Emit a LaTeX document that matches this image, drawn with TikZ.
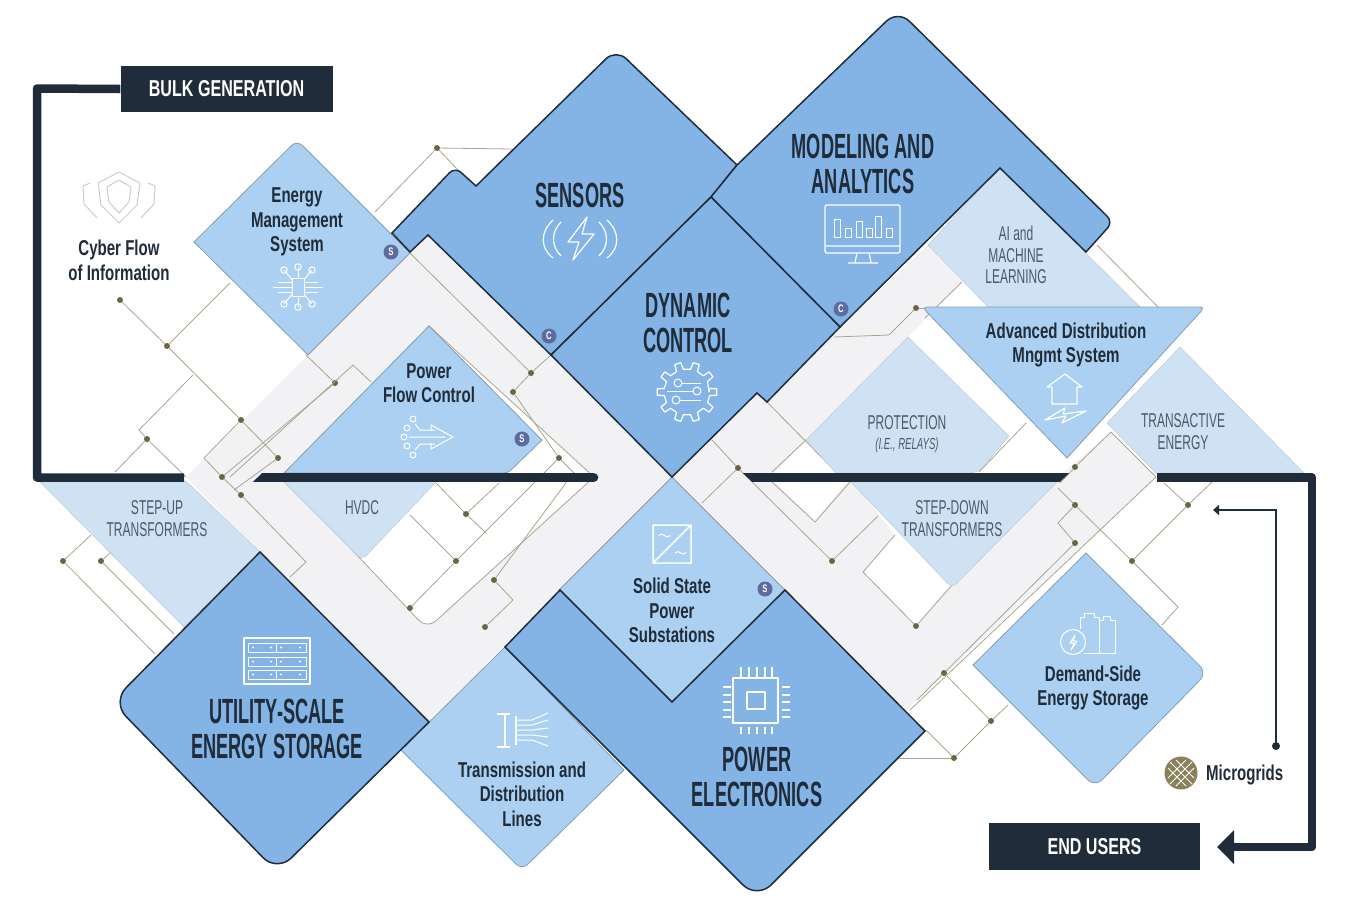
\documentclass[tikz,border=0pt]{standalone}
\usepackage{fontspec}
\usetikzlibrary{arrows.meta}
\newfontfamily\heavyfont[FakeStretch=0.52]{Liberation Sans}
\newfontfamily\midfont[FakeStretch=0.70]{Liberation Sans}
\newfontfamily\palefont[FakeStretch=0.60]{Liberation Sans}
\definecolor{ink}{HTML}{202C39}
\definecolor{bigblue}{HTML}{84B4E6}
\definecolor{midblue}{HTML}{ACD0F1}
\definecolor{paleblue}{HTML}{CFE2F4}
\definecolor{bandgrey}{HTML}{F2F2F4}
\definecolor{wirecol}{HTML}{A9A58F}
\definecolor{dotcol}{HTML}{6A6543}
\definecolor{badgecol}{HTML}{5D6B9E}
\definecolor{palelabel}{HTML}{4C5A68}
\definecolor{gridcol}{HTML}{8B8059}
\tikzset{
  bigshape/.style={fill=bigblue,draw=ink,line width=1.5pt},
  midshape/.style={fill=midblue,draw=midblue!70!black!90,line width=0.8pt},
  paleshape/.style={fill=paleblue,draw=paleblue!80!black!80,line width=0.4pt},
  wire/.style={draw=wirecol,line width=0.8pt},
  wiredot/.style={circle,fill=dotcol,inner sep=0pt,minimum size=6pt},
  thickline/.style={draw=ink,line width=8.5pt},
  banner/.style={fill=ink,text=white,inner sep=0pt,font=\midfont\bfseries\fontsize{23}{25}\selectfont},
  biglabel/.style={text=ink,align=center,inner sep=0pt,font=\heavyfont\bfseries\fontsize{35}{35.5}\selectfont},
  midlabel/.style={text=ink,align=center,inner sep=0pt,font=\midfont\bfseries\fontsize{21.5}{24.6}\selectfont},
  palelab/.style={text=palelabel,align=center,inner sep=0pt,font=\palefont\fontsize{20}{21.5}\selectfont},
  badge/.style={circle,fill=badgecol,text=white,inner sep=0pt,minimum size=15pt,font=\midfont\bfseries\fontsize{11}{11}\selectfont},
  iconline/.style={draw=white,line width=1.2pt,line join=round},
}
\begin{document}
\begin{tikzpicture}[x=1pt,y=-1pt]
  \useasboundingbox (0,0) rectangle (1350,906);
  % grey bands
  \fill[bandgrey] (186,477) -- (410,253) -- (428,235) -- (672,477) -- (559,590) -- (503,647) -- (428,722) -- (260,552) -- cycle;
  \fill[bandgrey] (672,477) -- (757,393) -- (767,402) -- (840,327) -- (928,245) -- (962,282) -- (908,337) -- (806,440) -- (770,477) -- (815,522) -- (850,477) -- (895,535) [rounded corners=4pt] -- (863,572) [sharp corners] -- (916,626) -- (952,585) -- (1058,477) -- (1111,432) -- (1156,477) -- (1075,553) -- (906,710) -- (925,731) -- (785,590) -- cycle;
  \filldraw[fill=white,wire] (429,326) -- (594,477) [rounded corners=12pt] -- (427,629) [sharp corners] -- (283,477) -- cycle;
  % junctions and free ends of the wires
  \foreach \name/\x/\y in {j1/437/148,j2/120/300,j3/167/346,j4/241/420,j5/278/458,j6/147/439,j7/222/477,j8/241/495,
    j9/335/383,j10/531/373,j11/513/392,j12/559/458,j13/494/580,j14/485/627,j15/466/514,j16/456/561,j17/410/608,
    j18/63/561,j19/101/561,j20/738/468,j21/832/561,j22/916/626,j23/916/308,j24/1075/467,j25/1075/505,j26/1075/543,
    j27/1132/561,j28/1188/505,j29/944/673,j30/991/721,j31/954/758}
    \node[wiredot] (\name) at (\x,\y) {};
  \foreach \name/\x/\y in {e1/375/212,e2/460/172,e3/512/149,e4/230/283,e5/193/375,e6/139/430,e7/186/477,e8/115/472,
    e9/306/562,e10/290/577,e11/204/458,e12/306/355,e14/353/365,e15/371/382,e16/230/477,e19/234/490,
    e20/410/253,e21/551/355,e22/574/473,e26/574/472,e27/513/600,e28/436/483,e29/486/533,e30/499/483,e31/410/515,
    e33/91/535,e34/155/654,e35/110/553,e36/174/634,e37/712/440,e38/702/503,e39/878/516,e40/767/402,e41/836/472,
    e42/806/440,e43/772/472,e44/772/482,e45/815/522,e46/850/482,e47/863/572,e48/952/585,e49/895/535,e50/936/308,
    e51/889/335,e52/834/337,e53/928/245,e54/962/282,e55/925/318,e56/1097/245,e57/1158/307,e58/1111/432,e59/1060/483,
    e60/1026/423,e61/979/472,e62/1058/488,e63/1178/607,e64/1162/625,e65/1164/483,e66/1212/482,e67/1058/523,
    e68/1156/477,e69/910/710,e70/926/730,e71/898/758,e72/1008/705,e73/917/700}
    \coordinate (\name) at (\x,\y);
  \foreach \from/\to in {j1/e1,j1/e2,j1/e3,j2/j3,j3/j4,j4/j5,j3/e4,e5/e6,e6/j6,j6/e7,j6/e8,e11/j7,j7/j8,j8/e9,e9/e10,
    j4/e11,j9/j7,e12/j9,e14/e15,e14/e16,j5/e19,e20/j10,j10/e21,j10/j11,j11/j12,j12/e22,e26/j13,j13/e27,e27/j14,
    e28/j15,j15/e29,j15/e30,e31/j16,j17/j16,j16/j12,j18/e33,j18/e34,j19/e35,j19/e36,e37/j20,j20/j21,j20/e38,j21/e39,
    e40/e41,e42/e43,e44/e45,e45/e46,e47/j22,j22/e48,e47/e49,j23/e50,j23/e51,e51/e52,e54/e55,e56/e57,j24/e58,j24/e59,
    e60/e61,j25/e62,j25/j27,j27/e63,e63/e64,j27/j28,j28/e65,j28/e66,j25/e67,e67/j26,j26/j29,e68/e69,e68/e58,
    j29/j30,j30/j31,j31/e70,j31/e71,j30/e72,j29/e73}
    \draw[wire] (\from) -- (\to);
  % pale boxes
  \filldraw[paleshape] (928,245) -- (1000,168) -- (1140,307) -- (988,307) -- cycle;
  \filldraw[paleshape] (908,337) -- (1009,436) [rounded corners=8pt] -- (978,473) [sharp corners] -- (836,473) -- (806,440) -- cycle;
  \filldraw[paleshape] (1180,347) -- (1304,473) -- (1156,473) -- (1107,423) -- cycle;
  \filldraw[paleshape] (39,481) -- (186,481) -- (260,552) -- (184,627) -- cycle;
  \filldraw[paleshape] (283,481) -- (437,481) [rounded corners=6pt] -- (362,560) [sharp corners] -- cycle;
  \filldraw[paleshape] (850,481) -- (1058,481) [rounded corners=6pt] -- (952,588) [sharp corners] -- cycle;
  % medium boxes
  \filldraw[midshape] (410,253) [rounded corners=8pt] -- (297,140) [sharp corners] -- (194,242) -- (308,355) -- cycle;
  \filldraw[midshape] (429,326) -- (542,440) [rounded corners=4pt] -- (508,473) [sharp corners] -- (284,473) -- cycle;
  \filldraw[midshape] (672,477) -- (785,590) -- (672,702) -- (559,590) -- cycle;
  \filldraw[midshape] (505,647) -- (624,770) [rounded corners=8pt] -- (522,870) [sharp corners] -- (401,750) -- cycle;
  \filldraw[midshape] (1086,553) [rounded corners=10pt] -- (1207,673) -- (1095,787) [sharp corners] -- (973,665) -- cycle;
  \filldraw[midshape] (1067,458) [rounded corners=5pt] -- (922,307) -- (1205,307) [sharp corners] -- cycle;
  % heavy boxes
  \filldraw[bigshape] (551,355) -- (428,235) -- (410,252) -- (392,233) [rounded corners=8pt] -- (455,167) [sharp corners] -- (476,186) [rounded corners=14pt] -- (616,49) [sharp corners] -- (737,165) -- (711,197) -- cycle;
  \filldraw[bigshape] (1086,252) -- (1000,168) -- (840,327) -- (711,197) -- (737,165) [rounded corners=16pt] -- (898,10) [rounded corners=8pt] -- (1113,222) [sharp corners] -- cycle;
  \filldraw[bigshape] (551,355) -- (711,197) -- (840,327) -- (767,402) -- (757,393) -- (672,477) -- cycle;
  \filldraw[bigshape] (260,552) -- (429,722) [rounded corners=20pt] -- (277,872) -- (112,702) [sharp corners] -- cycle;
  \filldraw[bigshape] (505,647) -- (560,590) -- (672,702) -- (785,590) -- (925,731) [rounded corners=20pt] -- (757,899) [sharp corners] -- cycle;
  % heavy line
  \node[banner,minimum width=212pt,minimum height=46pt] (bulk) at (226.5,89) {BULK GENERATION};
  \node[banner,minimum width=211pt,minimum height=47pt] (endusers) at (1094.5,846.5) {END USERS};
  \coordinate (turn1) at (37,88.5);
  \coordinate (turn2) at (37,477.5);
  \coordinate (turn3) at (184,477.5);
  \coordinate (turn4) at (1157,477.5);
  \coordinate (turn5) at (1312,477.5);
  \coordinate (turn6) at (1312,847);
  \coordinate (tip) at (1217,847);
  \draw[thickline,line join=round] (bulk.west) -- (turn1) -- (turn2) -- (turn3);
  \draw[thickline,line join=round,-{Triangle[length=17pt,width=33pt]}] (turn4) -- (turn5) -- (turn6) -- (tip);
  \fill[ink] (262,473.2) -- (594,473.2) -- (594,481.8) -- (253,481.8) -- cycle;
  \fill[ink] (594,477.5) circle (4.3);
  \fill[ink] (743,473.2) -- (1069,473.2) -- (1060,481.8) -- (752,481.8) -- cycle;
  % microgrid pointer
  \node[circle,fill=ink,inner sep=0pt,minimum size=8pt] (microdot) at (1276,746) {};
  \coordinate (microturn) at (1276,510);
  \coordinate (microtip) at (1213,510);
  \draw[ink,line width=2.2pt,-{Triangle[length=6pt,width=10pt]}] (microdot) -- (microturn) -- (microtip);
  % badges
  \node[badge] (s1) at (391,252) {S};
  \node[badge] (s2) at (522,439) {S};
  \node[badge] (s3) at (765,589) {S};
  \node[badge] (c1) at (549,336) {C};
  \node[badge] (c2) at (841,309) {C};
  % labels
  \node[midlabel] (cyber) at (119,260.5) {Cyber Flow\\of Information};
  \node[midlabel] (ems) at (297,222) {Energy\\Management\\System};
  \node[midlabel] (pfc) at (429,383) {Power\\Flow Control};
  \node[biglabel] (sensors) at (580,195) {SENSORS};
  \node[biglabel] (modeling) at (863,164) {MODELING AND\\ANALYTICS};
  \node[biglabel] (dynamic) at (688,323) {DYNAMIC\\CONTROL};
  \node[palelab] (aiml) at (1016,255) {AI and\\MACHINE\\LEARNING};
  \node[midlabel] (adms) at (1066,345) {Advanced Distribution\\Mngmt System};
  \node[palelab] (prot) at (907,423) {PROTECTION};
  \node[palelab,font=\palefont\itshape\fontsize{16}{18}\selectfont] (relays) at (907,445) {(I.E., RELAYS)};
  \node[palelab] (trans) at (1183,431.5) {TRANSACTIVE\\ENERGY};
  \node[palelab] (stepup) at (157,518.5) {STEP-UP\\TRANSFORMERS};
  \node[palelab] (hvdc) at (362,508) {HVDC};
  \node[palelab] (stepdown) at (952,518.5) {STEP-DOWN\\TRANSFORMERS};
  \node[midlabel] (sspss) at (672,610.5) {Solid State\\Power\\Substations};
  \node[biglabel] (utility) at (277,729) {UTILITY-SCALE\\ENERGY STORAGE};
  \node[midlabel] (lines) at (522,794) {Transmission and\\Distribution\\Lines};
  \node[biglabel] (powerel) at (757,777) {POWER\\ELECTRONICS};
  \node[midlabel] (demand) at (1093,688) {Demand-Side\\Energy Storage};
  \node[midlabel,anchor=west] (micro) at (1206,775) {Microgrids};
  % shield icon
  \begin{scope}[draw=black!20,line width=1pt,line join=round]
    \draw (119,172) -- (140,183) -- (137,205) -- (119,223) -- (101,205) -- (98,183) -- cycle;
    \draw (119,180) -- (131,187) -- (129,202) -- (119,213) -- (109,202) -- (107,187) -- cycle;
    \draw (90,183) -- (83,186) -- (84,204) -- (97,218);
    \draw (148,183) -- (155,186) -- (154,204) -- (141,218);
  \end{scope}
  % sensor icon
  \draw[iconline] (587,217) -- (568,242) -- (579,242) -- (573,260) -- (594,234) -- (582,234) -- cycle;
  \draw[iconline] (561,222) .. controls (551,232) and (551,246) .. (561,256);
  \draw[iconline] (553,220) .. controls (540,232) and (540,248) .. (553,258);
  \draw[iconline] (599,222) .. controls (609,232) and (609,246) .. (599,256);
  \draw[iconline] (607,220) .. controls (620,232) and (620,248) .. (607,258);
  % monitor icon
  \draw[iconline,rounded corners=2pt] (825,205) rectangle (900,253);
  \draw[iconline] (825,246) -- (900,246) (857,253) -- (855,262) (869,253) -- (871,262) (848,263) -- (878,263);
  \foreach \bx/\by in {834/219,845/228,856/221,866/228,875/216,886/228}
    \draw[iconline,line width=1pt] (\bx,\by) rectangle (\bx+6,237);
  % circuit icon
  \draw[iconline,line width=1pt] (292,278) rectangle (304,296);
  \draw[iconline,line width=1pt] (273,287) -- (292,287) (304,287) -- (323,287) (292,282) -- (278,282) (304,282) -- (318,282) (292,292) -- (278,292) (304,292) -- (318,292);
  \foreach \cx/\cy in {284/270,298/267,312/270,284/304,298/307,312/304}{
    \draw[iconline,line width=1pt] (\cx,\cy) circle (3.2);
    \draw[iconline,line width=1pt] (\cx,\cy) -- (298,287);
  }
  \fill[midblue] (292.5,278.5) rectangle (303.5,295.5);
  % flow icon
  \draw[iconline,line width=1pt] (431,425) -- (453,437) -- (431,449) -- (431,443) (431,431) -- (431,425);
  \draw[iconline,line width=1pt] (409,437) -- (445,437) (420,430) -- (435,430) (420,444) -- (435,444) (415,424) -- (420,430) (415,450) -- (420,444);
  \foreach \cx/\cy in {413/419,407/428,404/437,407/446,413/455}
    \draw[iconline,line width=1pt] (\cx,\cy) circle (3);
  % gear icon
  \begin{scope}[shift={(687,392)}]
    \draw[iconline] (22,0) \foreach \a in {0,36,...,324}{ -- (\a-9:23) -- (\a-6:30) -- (\a+6:30) -- (\a+9:23)} -- cycle;
    \draw[iconline,line width=1pt] (-9,-9) circle (4) (-11,8) circle (4) (10,-1) circle (4);
    \draw[iconline,line width=1pt] (-5,-9) -- (14,-9) (-7,8) -- (14,8) (-20,-1) -- (6,-1);
  \end{scope}
  % house icon
  \draw[iconline] (1065,374) -- (1082,387) -- (1077,387) -- (1077,404) -- (1052,404) -- (1052,387) -- (1047,387) -- cycle;
  \draw[iconline] (1045,420) -- (1065,408) -- (1063,414) -- (1086,411) -- (1062,423) -- (1066,416) -- cycle;
  % converter icon
  \draw[iconline,line width=1.5pt] (653,525) rectangle (691,563) (653,563) -- (691,525);
  \draw[iconline,line width=1pt] (659,536) .. controls (663,530) and (666,541) .. (670,535);
  \draw[iconline,line width=1pt] (675,553) .. controls (679,548) and (682,558) .. (686,552);
  % chip icon
  \draw[iconline] (733,678) rectangle (778,723);
  \draw[iconline] (747,692) rectangle (765,709);
  \foreach \p in {741,749,757,765,772}
    \draw[iconline] (\p,667) -- (\p,677) (\p,727) -- (\p,734);
  \foreach \p in {687,695,702,710,717}
    \draw[iconline] (723,\p) -- (731,\p) (782,\p) -- (790,\p);
  % server icon
  \draw[iconline] (244,638) rectangle (310,684);
  \foreach \ry in {643,657,670}{
    \draw[iconline,line width=1pt] (248,\ry) rectangle (306,\ry+9);
    \draw[iconline,line width=1pt] (276,\ry) -- (276,\ry+9);
    \fill[white] (253,\ry+4.5) circle (1.2) (271,\ry+4.5) circle (1.2) (281,\ry+4.5) circle (1.2) (300,\ry+4.5) circle (1.2);
  }
  % cable icon
  \draw[iconline] (497,714) -- (510,714) (497,747) -- (510,747) (505,714) -- (505,747) (516,716) -- (516,745);
  \foreach \ya/\yb in {720/713,725/720,730/728,735/737,740/746}
    \draw[iconline,line width=1pt] (516,\ya) -- (532,\ya) -- (548,\yb);
  % battery icon
  \draw[iconline,line width=1pt] (1073,642) circle (12.5);
  \draw[iconline,line width=1pt] (1075,635) -- (1070,643) -- (1074,643) -- (1071,650) -- (1077,641) -- (1073,641) -- cycle;
  \draw[iconline,line width=1pt] (1080,629) -- (1080,617) -- (1084,617) -- (1084,613) -- (1094,613) -- (1094,617) -- (1099,617) -- (1099,653) -- (1084,653);
  \draw[iconline,line width=1pt] (1099,620) -- (1103,620) -- (1103,616) -- (1110,616) -- (1110,620) -- (1115,620) -- (1115,653) -- (1099,653);
  % microgrid icon
  \fill[gridcol] (1181,773) circle (16.5);
  \draw[white,line width=1pt] (1170,762) -- (1192,784) (1170,784) -- (1192,762) (1176,760) -- (1194,778) (1168,768) -- (1186,786) (1186,760) -- (1168,778) (1194,768) -- (1176,786);
\end{tikzpicture}
\end{document}
